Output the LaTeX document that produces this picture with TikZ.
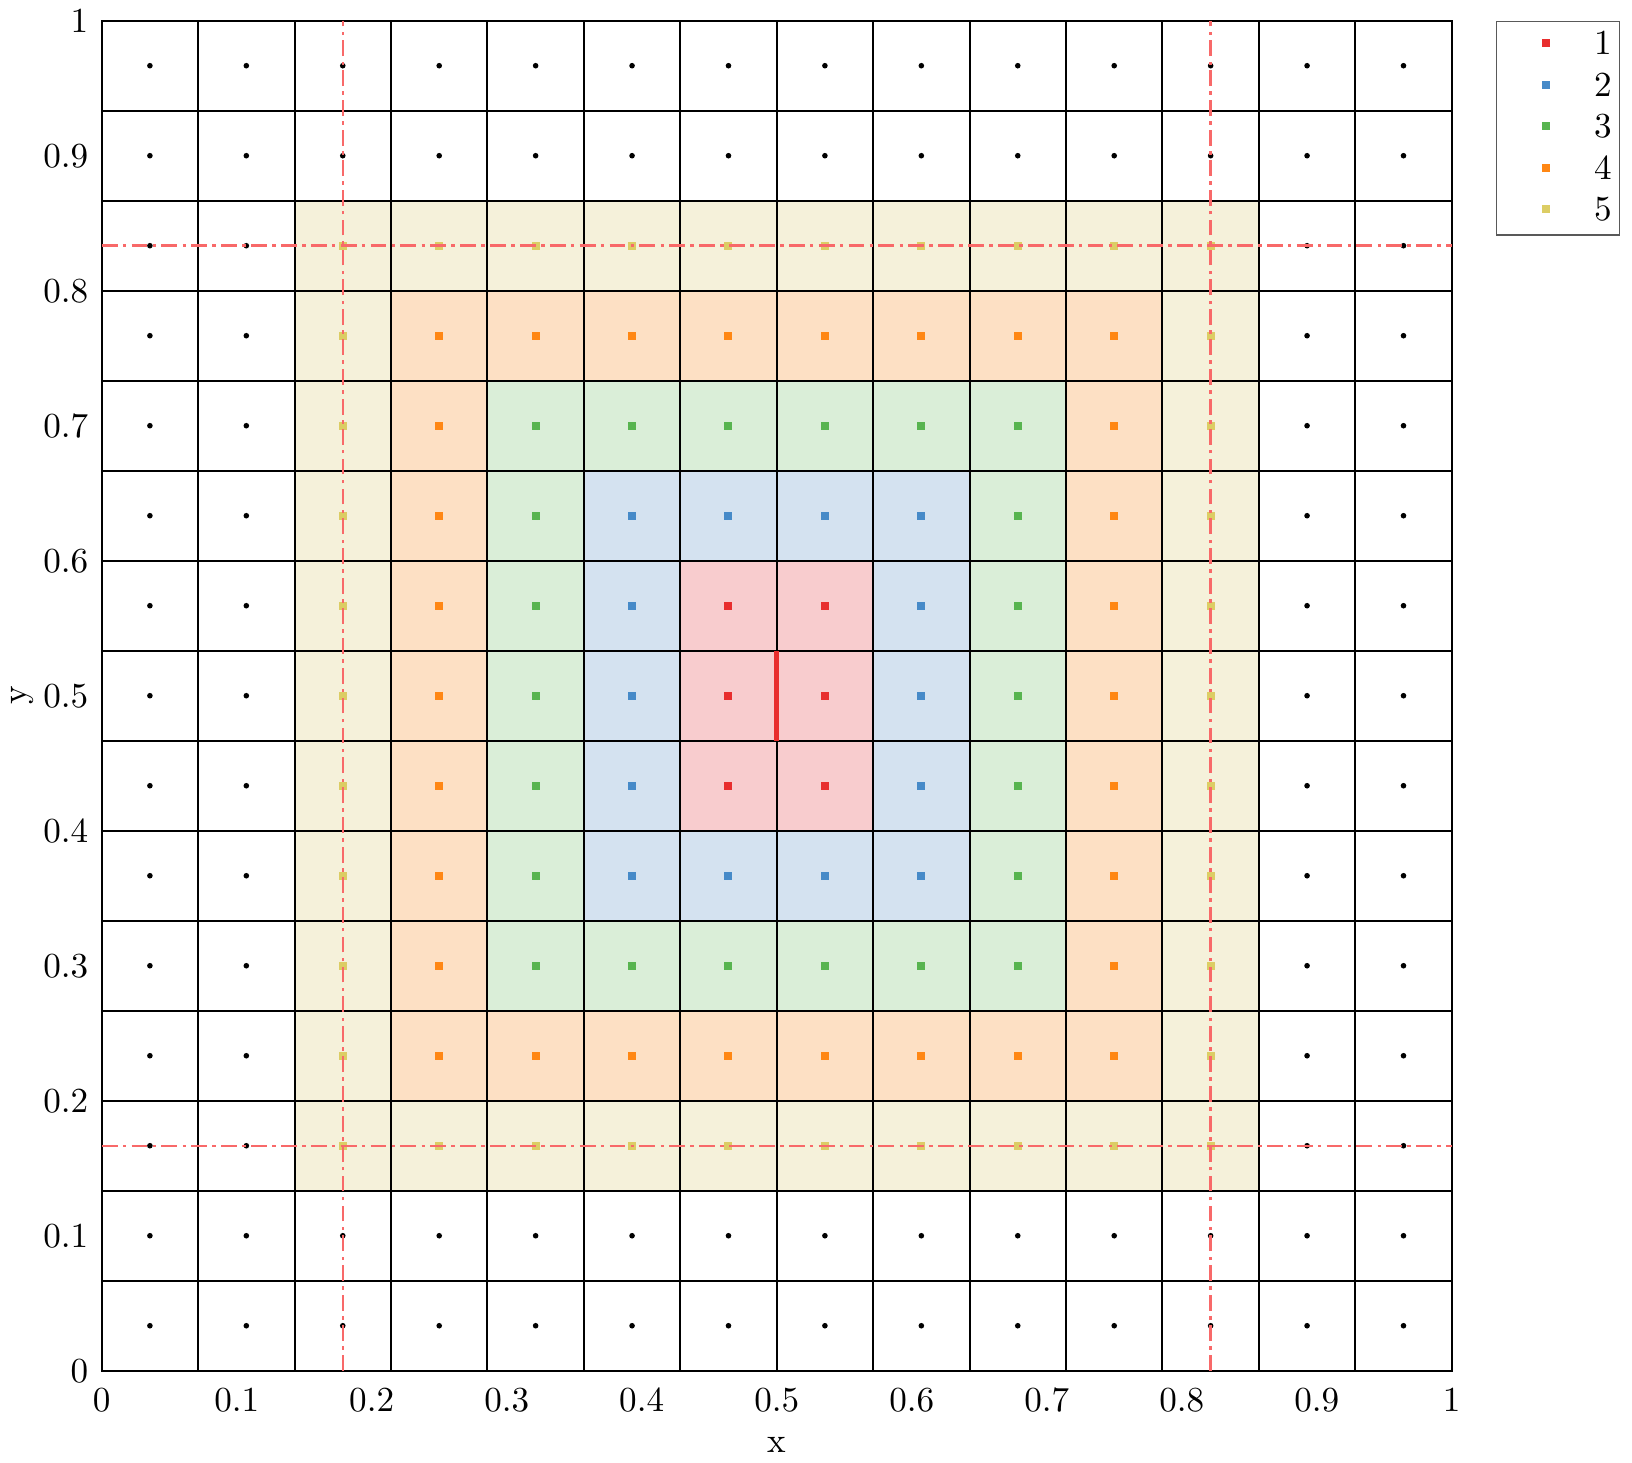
\documentclass[tikz,border=0pt]{standalone}
\usepackage{amsmath}
\usepackage{tikz}
\usetikzlibrary{positioning}
\definecolor{ringA}{RGB}{232,46,46}
\definecolor{ringB}{RGB}{70,138,200}
\definecolor{ringC}{RGB}{88,180,80}
\definecolor{ringD}{RGB}{255,135,20}
\definecolor{ringE}{RGB}{220,205,100}
\definecolor{fillA}{RGB}{248,204,206}
\definecolor{fillB}{RGB}{212,226,240}
\definecolor{fillC}{RGB}{218,238,216}
\definecolor{fillD}{RGB}{253,224,196}
\definecolor{fillE}{RGB}{245,241,218}
\definecolor{cutline}{RGB}{248,105,105}

\begin{document}
\begin{tikzpicture}[x=13.5cm,y=13.5cm,every node/.style={font=\normalsize},
  cell/.style={draw=black,line width=0.6pt},
  sqmark/.style={inner sep=0pt,minimum size=0.08cm},
  cut/.style={cutline,line width=0.7pt,dash pattern=on 4.5pt off 1.5pt on 1pt off 1.5pt}]
\path[use as bounding box] (-1.017cm,-0.913cm) rectangle (15.303cm,13.707cm);
% nested patches, outer ring first
\foreach \rk/\clr in {5/fillE,4/fillD,3/fillC,2/fillB,1/fillA}
{\fill[\clr] ({(7-\rk)/14},{(7-\rk)/15}) rectangle ({(7+\rk)/14},{(8+\rk)/15});}
% cells
\foreach \i in {0,...,13}{\foreach \j in {0,...,14}
{\draw[cell] ({\i/14},{\j/15}) rectangle ({(\i+1)/14},{(\j+1)/15});}}
% cell centres
\foreach \i in {0,...,13}{\foreach \j in {0,...,14}{
\pgfmathtruncatemacro\rk{max(abs(\i-6.5)+0.5,abs(\j-7),1)}
\ifcase\rk\or\def\clr{ringA}\or\def\clr{ringB}\or\def\clr{ringC}\or\def\clr{ringD}\or\def\clr{ringE}\else\def\clr{black}\fi
\ifnum\rk>5
\fill ({(\i+0.5)/14},{(\j+0.5)/15}) circle (0.028cm);
\else
\node[sqmark,fill=\clr] at ({(\i+0.5)/14},{(\j+0.5)/15}) {};
\fi}}
% cut lines
\coordinate (vl0) at ({2.5/14},0); \coordinate (vl1) at ({2.5/14},1);
\coordinate (vr0) at ({11.5/14},0); \coordinate (vr1) at ({11.5/14},1);
\coordinate (hb0) at (0,{2.5/15}); \coordinate (hb1) at (1,{2.5/15});
\coordinate (ht0) at (0,{12.5/15}); \coordinate (ht1) at (1,{12.5/15});
\draw[cut] (vl0)--(vl1); \draw[cut] (vr0)--(vr1);
\draw[cut] (hb0)--(hb1); \draw[cut] (ht0)--(ht1);
% marked face
\coordinate (fa) at (0.5,{7/15}); \coordinate (fb) at (0.5,{8/15});
\draw[ringA,line width=1.5pt] (fa)--(fb);
% ticks
\foreach \t/\s in {0/0,0.1/0.1,0.2/0.2,0.3/0.3,0.4/0.4,0.5/0.5,0.6/0.6,0.7/0.7,0.8/0.8,0.9/0.9,1/1}
{\node[anchor=base,inner sep=0pt] at ([yshift=-0.41cm]\t,0) {$\s$};
 \node[anchor=east,inner sep=0pt] at ([xshift=-0.127cm]0,\t) {$\s$};}
\node (xlab) at ([yshift=-0.74cm]0.5,0) {x};
\node[rotate=90] (ylab) at ([xshift=-0.79cm]0,0.5) {y};
% legend
\node[draw=black!65,line width=0.5pt,minimum width=1.23cm,minimum height=2.133cm,anchor=north west,inner sep=0pt] (legend) at (13.94cm,13.5cm) {};
\foreach \n/\clr [count=\m] in {1/ringA,2/ringB,3/ringC,4/ringD,5/ringE}
{\node[sqmark,fill=\clr] (key\n) at (14.44cm,{13.274cm-(\m-1)*0.415cm}) {};
 \node[right=0.43cm of key\n,inner sep=0pt] (lab\n) {$\n$};}
\end{tikzpicture}
\end{document}
